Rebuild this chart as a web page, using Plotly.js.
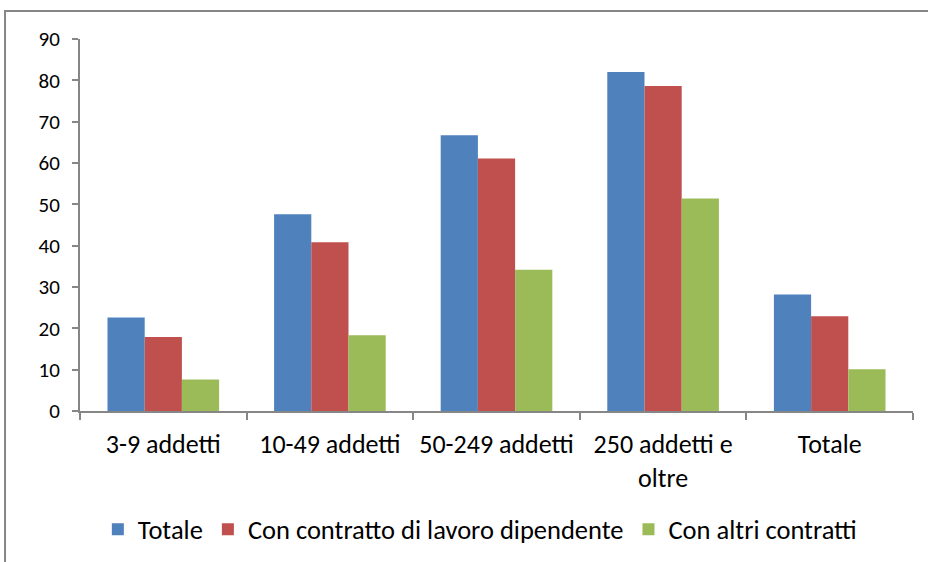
<!DOCTYPE html>
<html>
<head>
<meta charset="utf-8">
<script src="https://cdn.plot.ly/plotly-3.0.1.min.js"></script>
<style>html,body{margin:0;padding:0;background:#fff;}#chart{width:928px;height:562px;}</style>
</head>
<body>
<div id="chart"></div>
<script>
const categories = ["3-9 addetti", "10-49 addetti", "50-249 addetti", "250 addetti e<br>oltre", "Totale"];
const totale = [22.6, 47.6, 66.7, 82.0, 28.2];
const dipendente = [17.9, 40.8, 61.1, 78.6, 22.9];
const altri = [7.6, 18.3, 34.2, 51.4, 10.1];
const seriesNames = ["Totale", "Con contratto di lavoro dipendente", "Con altri contratti"];
const colors = ["#4F81BD", "#C0504D", "#9BBB59"];
const yTicks = [0, 10, 20, 30, 40, 50, 60, 70, 80, 90];

const fam = "Carlito, 'Liberation Sans Narrow', 'DejaVu Sans Condensed', sans-serif";
const xFont = {family: fam, size: 26, color: "#000"};
const yFont = {family: fam, size: 21, color: "#000"};
const legFont = {family: fam, size: 26.5, color: "#000"};
const data = [totale, dipendente, altri].map((vals, i) => ({
  type: "bar", x: categories, y: vals, name: seriesNames[i],
  marker: {color: colors[i], line: {width: 0}}
}));
const layout = {
  width: 928, height: 562,
  margin: {l: 80, r: 15, t: 39, b: 151, autoexpand: false},
  paper_bgcolor: "#fff", plot_bgcolor: "#fff",
  font: xFont,
  barmode: "group", bargap: 0.33, bargroupgap: 0,
  showlegend: true,
  legend: {orientation: "h", x: 0.48, xanchor: "center", yref: "container", y: 0.058, yanchor: "middle", font: legFont, itemwidth: 30, traceorder: "normal"},
  xaxis: {type: "category", showline: true, linecolor: "#868686", linewidth: 2, ticks: "outside", tickson: "boundaries", ticklen: 7, tickcolor: "#868686", tickwidth: 2, showgrid: false, tickfont: xFont, ticklabelstandoff: 9},
  yaxis: {range: [0, 90], tickvals: yTicks, showline: true, linecolor: "#868686", linewidth: 2, ticks: "outside", ticklen: 6, tickcolor: "#868686", tickwidth: 2, showgrid: false, zeroline: false, tickfont: yFont, ticklabelstandoff: 8},
  shapes: [{type: "rect", xref: "paper", yref: "paper", x0: -0.09, x1: 1.2, y0: -0.6, y1: 1.075, line: {color: "#868686", width: 2}, layer: "below"}]
};
Plotly.newPlot("chart", data, layout, {displayModeBar: false, staticPlot: true});
</script>
</body>
</html>
